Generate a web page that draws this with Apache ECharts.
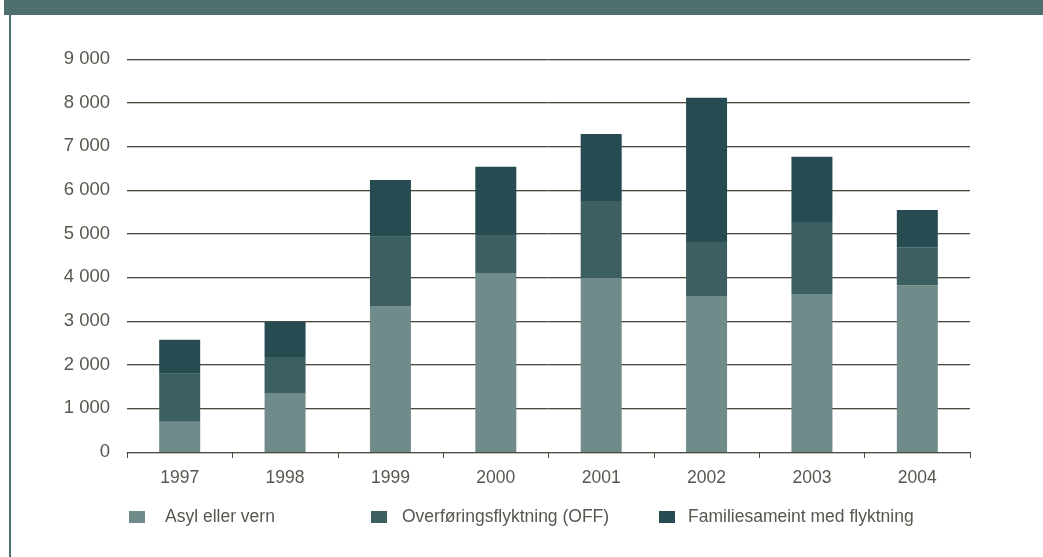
<!DOCTYPE html>
<html>
<head>
<meta charset="utf-8">
<script src="https://cdn.jsdelivr.net/npm/echarts@6/dist/echarts.min.js"></script>
<style>
  html, body { margin: 0; padding: 0; background: #fff; }
  #chart { width: 1043px; height: 557px; }
</style>
</head>
<body>
<div id="chart"></div>
<script>
// data
const years = ['1997', '1998', '1999', '2000', '2001', '2002', '2003', '2004']
const asyl = [690, 1350, 3330, 4100, 3990, 3570, 3620, 3820]
const off = [1100, 825, 1600, 870, 1760, 1240, 1650, 870]
const familie = [780, 800, 1300, 1560, 1530, 3300, 1490, 850]
const names = ['Asyl eller vern', 'Overføringsflyktning (OFF)', 'Familiesameint med flyktning']
const colors = ['#6f8c8a', '#3d5f62', '#264b50']

const font = 'Liberation Sans'
const textColor = '#57574f'

const chart = echarts.init(document.getElementById('chart'))

// one legend per item so each sits where the reference puts it
const legendAt = (name, left, pad) => ({
  data: [name],
  left: left,
  top: 508,
  icon: 'rect',
  itemWidth: 16,
  itemHeight: 12,
  padding: 0,
  selectedMode: false,
  textStyle: { fontFamily: font, fontSize: 17.5, color: textColor, padding: [0, 0, 0, pad] }
})

const option = {
  animation: false,
  color: colors,
  graphic: [
    // header band and left frame line
    { type: 'rect', left: 4, top: 0, shape: { width: 1039, height: 15 }, style: { fill: '#4f6f6f' } },
    { type: 'rect', left: 9, top: 15, shape: { width: 2, height: 542 }, style: { fill: '#4f6f6f' } }
  ],
  legend: [
    legendAt(names[0], 129, 15),
    legendAt(names[1], 371, 10),
    legendAt(names[2], 659, 8)
  ],
  grid: { left: 127, right: 73, top: 59, bottom: 105 },
  xAxis: {
    type: 'category',
    data: years,
    axisLine: { show: true, lineStyle: { color: '#4a4a40', width: 1 } },
    axisTick: { show: true, length: 6, lineStyle: { color: '#4a4a40' } },
    axisLabel: { fontFamily: font, fontSize: 17.5, color: textColor, margin: 17 }
  },
  yAxis: {
    type: 'value',
    min: 0,
    max: 9000,
    interval: 1000,
    axisLine: { show: false },
    axisTick: { show: false },
    axisLabel: {
      fontFamily: font,
      fontSize: 18.5,
      color: textColor,
      margin: 17,
      formatter: v => v >= 1000 ? Math.floor(v / 1000) + ' ' + String(v % 1000).padStart(3, '0') : String(v)
    },
    splitLine: {
      lineStyle: { color: '#4a4a40', width: 1, shadowColor: '#c4c4bc', shadowOffsetY: 1, shadowBlur: 0 }
    }
  },
  series: [
    { name: names[0], type: 'bar', stack: 'sum', data: asyl, barWidth: 41 },
    { name: names[1], type: 'bar', stack: 'sum', data: off, barWidth: 41 },
    { name: names[2], type: 'bar', stack: 'sum', data: familie, barWidth: 41 }
  ]
}

chart.setOption(option)
</script>
</body>
</html>
